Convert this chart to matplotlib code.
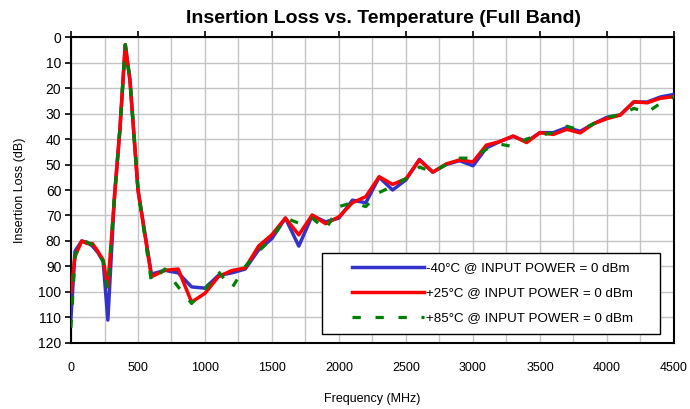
from matplotlib import pyplot as plt
from matplotlib.patches import Rectangle

plt.rcParams['font.family'] = ['Liberation Sans', 'DejaVu Sans']

#Frequency points (MHz)
freq = [0, 30, 80, 120, 160, 200, 240, 275, 325, 365, 405, 440, 500,
        600, 700, 800, 900, 1000, 1100, 1200, 1300, 1400, 1500, 1600,
        1700, 1800, 1900, 2000, 2100, 2200, 2300, 2400, 2500, 2600,
        2700, 2800, 2900, 3000, 3100, 3200, 3300, 3400, 3500, 3600,
        3700, 3800, 3900, 4000, 4100, 4200, 4300, 4400, 4500]

#Insertion loss (dB) at each temperature
loss_m40 = [110, 84, 80, 80.5, 82, 84.5, 88, 111, 62, 36, 3, 17, 60,
            93, 91.5, 92.5, 98, 98.5, 93.5, 92.5, 91, 83.5, 79, 71,
            82, 70, 72.5, 71, 64, 65, 55, 60, 56, 48,
            53, 50, 48.5, 50.5, 43.5, 41, 39, 41, 37.5, 37.5,
            35.5, 37, 34, 31.5, 30.5, 25.5, 25.5, 23.5, 22.5]
loss_p25 = [100, 86, 80, 81, 81, 84, 87.5, 98, 62.5, 36.5, 3, 17, 60,
            94, 91.5, 91, 104, 100.5, 94, 91.6, 90.6, 82, 77.5, 71,
            77.6, 69.8, 73.2, 70.5, 65, 62.6, 54.8, 57.8, 55.6, 48.2,
            53, 49.8, 48.2, 49, 42.4, 41, 38.8, 41.4, 37.5, 38.2,
            36.2, 37.6, 34, 32, 30.6, 25.4, 25.8, 24, 23.4]
loss_p85 = [114, 86, 80, 80.5, 81.5, 84.5, 88, 99, 62, 36, 3, 17, 60,
            96, 91, 98, 104.5, 99, 92, 98.5, 90, 84, 79, 71,
            73, 71, 75.5, 66.5, 65, 66.5, 61, 58.5, 55.5, 51,
            53, 50, 47.5, 47.5, 44, 42, 43, 40, 38.5, 37.5,
            35, 36.5, 34, 31.5, 30.5, 28, 29.5, 26, 23.5]

labels = ['-40°C @ INPUT POWER = 0 dBm',
          '+25°C @ INPUT POWER = 0 dBm',
          '+85°C @ INPUT POWER = 0 dBm']

fig = plt.figure(figsize=(6.9, 4.09), dpi=100)
ax = fig.add_axes([0.1029, 0.1614, 0.8739, 0.7481])

ax.plot(freq, loss_m40, color='#3333cc', lw=2.5, label=labels[0], zorder=3)
ax.plot(freq, loss_p25, color='#ff0000', lw=2.5, label=labels[1], zorder=4)
ax.plot(freq, loss_p85, color='#008000', lw=2.3, dashes=(2.6, 4.6),
        label=labels[2], zorder=5)

ax.set_xlim(0, 4500)
ax.set_ylim(120, 0)
ax.set_xticks(range(0, 4501, 500))
ax.set_xticks(range(0, 4501, 250), minor=True)
ax.set_yticks(range(0, 121, 10))
ax.grid(True, which='both', color='#c4c4c4', lw=1.0, zorder=0)

ax.tick_params(axis='x', which='major', bottom=False, top=True,
               labelbottom=True, labeltop=False, direction='out',
               length=4, width=1.2, labelsize=9, pad=10)
ax.tick_params(axis='x', which='minor', bottom=False, top=False)
ax.tick_params(axis='y', direction='out', length=4, width=1.2,
               labelsize=10, pad=3)
for s in ax.spines.values():
    s.set_linewidth(1.5)
    s.set_color('black')

ax.set_title('Insertion Loss vs. Temperature (Full Band)', x=0.518,
             fontsize=14, fontweight='bold', pad=10)
ax.set_xlabel('Frequency (MHz)', fontsize=9)
ax.xaxis.set_label_coords(0.5, -0.162)
ax.set_ylabel('Insertion Loss (dB)', fontsize=9)
ax.yaxis.set_label_coords(-0.075, 0.5)

#Legend box
ax.add_patch(Rectangle((0.4158, 0.0284), 0.561, 0.2646,
                       transform=ax.transAxes, facecolor='white',
                       edgecolor='black', lw=1.0, zorder=6))
leg = ax.legend(loc='center left', bbox_to_anchor=(0.4655, 0.163),
                frameon=False, fontsize=9.6, handlelength=5.4,
                handletextpad=0.15, borderpad=0, borderaxespad=0,
                labelspacing=0.95)
leg.set_zorder(7)

plt.savefig('out.png', dpi=100)
